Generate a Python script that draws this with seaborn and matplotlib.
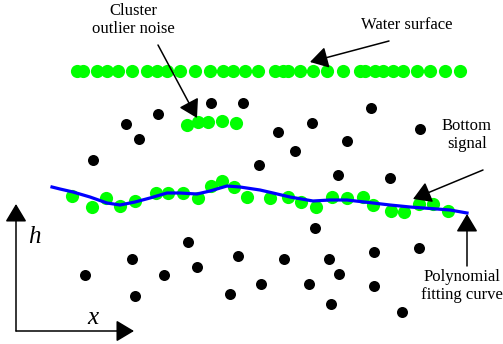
import matplotlib.pyplot as plt
import pandas as pd
import seaborn as sns

# Diagram coordinates in pixels (y grows downwards)

# Water surface returns
surface_x = [77, 83, 97, 107, 118, 132, 147, 157, 167, 180, 195, 210, 223, 233, 245, 258,
             275, 283, 288, 300, 313, 327, 343, 360, 365, 375, 383, 393, 403, 417, 430, 445, 460]
surface_y = [71] * len(surface_x)

# Cluster outlier noise
cluster_x = [187, 198, 208, 222, 236]
cluster_y = [125, 122, 122, 121, 123]

# Bottom signal returns
bottom_x = [72, 92, 106, 120, 135, 156, 168, 183, 198, 211, 222, 234, 247, 270,
            288, 301, 316, 332, 347, 363, 373, 391, 404, 419, 433, 448]
bottom_y = [196, 207, 198, 206, 201, 193, 193, 193, 198, 186, 181, 187, 197, 198,
            197, 202, 207, 197, 198, 197, 205, 211, 212, 204, 204, 211]

# Scattered noise points
noise_x = [211, 243, 158, 126, 139, 278, 295, 93, 371, 312, 347, 420, 338, 390, 259,
           315, 238, 284, 329, 339, 374, 419, 261, 309, 374, 331, 402, 230, 188, 132,
           85, 164, 197, 135]
noise_y = [103, 103, 114, 124, 139, 132, 151, 160, 108, 123, 141, 129, 175, 178, 165,
           228, 256, 259, 259, 274, 252, 248, 284, 284, 286, 304, 312, 294, 242, 259,
           275, 275, 267, 296]

# Polynomial fitting curve
curve_x = [52, 60, 73, 90, 107, 120, 135, 150, 167, 180, 197, 210, 227, 240, 260, 273,
           290, 313, 330, 347, 373, 390, 410, 437, 450, 467]
curve_y = [187, 189, 192, 197, 203, 205, 202, 198, 193, 193, 194, 191, 186, 187, 190, 193,
           197, 201, 200, 200, 203, 205, 207, 209, 210, 213]

green = "#00ff00"
serif = ["Liberation Serif", "DejaVu Serif"]

fig = plt.figure(figsize=(5.03, 3.44), dpi=100)
ax = fig.add_axes([0, 0, 1, 1])
ax.set_xlim(0, 503)
ax.set_ylim(344, 0)
ax.axis("off")

sns.scatterplot(x=noise_x, y=noise_y, color="black", s=63, linewidth=0, ax=ax, zorder=2)
sns.scatterplot(x=surface_x, y=surface_y, color=green, s=90, linewidth=0, ax=ax, zorder=2)
sns.scatterplot(x=cluster_x, y=cluster_y, color=green, s=90, linewidth=0, ax=ax, zorder=2)
sns.scatterplot(x=bottom_x, y=bottom_y, color=green, s=90, linewidth=0, ax=ax, zorder=2)

curve = pd.DataFrame({"x": curve_x, "y": curve_y})
sns.lineplot(data=curve, x="x", y="y", sort=False, estimator=None, color="#0000ff",
             lw=2.3, ax=ax, zorder=3)

arrow = dict(arrowstyle="-|>,head_length=0.5,head_width=0.3", color="black", lw=1.1,
             mutation_scale=22, shrinkA=0, shrinkB=0)

# coordinate axes
ax.annotate("", xy=(16, 204), xytext=(16, 331), arrowprops=arrow)
ax.annotate("", xy=(134, 331), xytext=(16, 331), arrowprops=arrow)
ax.text(34, 237, "h", fontsize=18, style="italic", family=serif, ha="center", va="center")
ax.text(93, 318, "x", fontsize=18, style="italic", family=serif, ha="center", va="center")

# labels with arrows
ax.text(133, 20, "Cluster\noutlier noise", fontsize=12, family=serif, ha="center",
        va="center", linespacing=1.1)
ax.annotate("", xy=(197, 118), xytext=(158, 45), arrowprops=arrow)

ax.text(407, 25, "Water surface", fontsize=12, family=serif, ha="center", va="center")
ax.annotate("", xy=(310, 62), xytext=(389, 41), arrowprops=arrow)

ax.text(467, 135, "Bottom\nsignal", fontsize=12, family=serif, ha="center", va="center",
        linespacing=1.1)
ax.annotate("", xy=(413, 199), xytext=(483, 170), arrowprops=arrow)

ax.text(462, 286, "Polynomial\nfitting curve", fontsize=12, family=serif, ha="center",
        va="center", linespacing=1.1)
ax.annotate("", xy=(467, 214), xytext=(467, 266), arrowprops=arrow)

plt.savefig("out.png", dpi=100)
